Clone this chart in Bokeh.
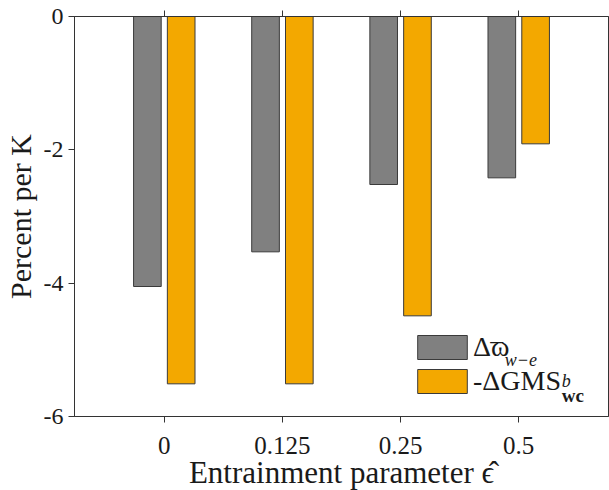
import numpy as np
from bokeh.plotting import figure
from bokeh.models import (Range1d, FixedTicker, LinearAxis, Legend, LegendItem,
                          ColumnDataSource, Label)
from bokeh.transform import dodge
from bokeh.embed import file_html
from bokeh.resources import INLINE

# ---- data ----
categories = ["0", "0.125", "0.25", "0.5"]
omega_vals = [-4.05, -3.53, -2.52, -2.42]
gms_vals = [-5.51, -5.51, -4.49, -1.91]
y_ticks = [0, -2, -4, -6]
y_tick_labels = ["0", "-2", "-4", "-6"]

xpos = list(range(1, len(categories) + 1))
src = ColumnDataSource(dict(x=xpos, omega=omega_vals, gms=gms_vals))

FONT = "Liberation Serif"
AX = "#333333"
TXT = "#1a1a1a"

p = figure(frame_width=534, frame_height=400,
           min_border_left=74, min_border_right=1, min_border_top=16, min_border_bottom=74,
           x_range=Range1d(0.24, 4.76), y_range=Range1d(-6, 0),
           output_backend="svg", toolbar_location=None, tools="",
           background_fill_color="white", border_fill_color="white")

p.xgrid.visible = False
p.ygrid.visible = False
p.outline_line_color = AX
p.outline_line_width = 1

bw = 0.234
off = 0.143
r1 = p.vbar(x=dodge("x", -off), top="omega", bottom=0, width=bw, source=src,
            fill_color="#808080", line_color="#3a3a3a", line_width=1)
r2 = p.vbar(x=dodge("x", off), top="gms", bottom=0, width=bw, source=src,
            fill_color="#F3A800", line_color="#3a3a3a", line_width=1)

# axes
xa = p.xaxis[0]
xa.ticker = FixedTicker(ticks=xpos)
xa.major_label_overrides = {x: c for x, c in zip(xpos, categories)}
xa.axis_label = "Entrainment parameter \u03f5\u0302"
ya = p.yaxis[0]
ya.ticker = FixedTicker(ticks=y_ticks)
ya.major_label_overrides = {t: l for t, l in zip(y_ticks, y_tick_labels)}
ya.axis_label = "Percent per K"

for a in (xa, ya):
    a.axis_line_color = AX
    a.major_tick_line_color = AX
    a.major_tick_in = 0
    a.major_tick_out = 6
    a.minor_tick_line_color = None
    a.major_label_text_font = FONT
    a.major_label_text_color = TXT
    a.axis_label_text_font = FONT
    a.axis_label_text_font_style = "normal"
    a.axis_label_text_color = TXT
xa.major_label_text_font_size = "25px"
ya.major_label_text_font_size = "24px"
xa.axis_label_text_font_size = "31px"
ya.axis_label_text_font_size = "30px"
xa.major_label_standoff = 14
xa.axis_label_standoff = -2
ya.major_label_standoff = 5
ya.axis_label_standoff = 4

top = LinearAxis(ticker=FixedTicker(ticks=xpos), axis_line_color=AX,
                 major_tick_line_color=AX, major_tick_in=0, major_tick_out=6,
                 minor_tick_line_color=None,
                 major_label_overrides={x: "" for x in xpos},
                 major_label_standoff=0)
p.add_layout(top, "above")

legend = Legend(items=[LegendItem(label="\u0394\u03c9", renderers=[r1]),
                       LegendItem(label="-\u0394GMS", renderers=[r2])],
                location=(337, 19), glyph_width=62, glyph_height=30,
                label_height=30, spacing=2, padding=0, margin=0,
                label_standoff=-3, border_line_alpha=0, background_fill_alpha=0,
                label_text_font=FONT, label_text_font_size="28px",
                label_text_color=TXT)
p.add_layout(legend)

def px2x(px):
    return 1 + (px - 164) / 118.33

def py2y(py):
    return -(py - 16) / 66.667

sub_style = dict(text_font=FONT, text_color=TXT,
                 text_baseline="alphabetic", text_align="left")
# overline on omega
p.add_layout(Label(x=px2x(497), y=py2y(340), text="\u2013", text_align="center",
                   text_font=FONT, text_font_size="26px", text_color=TXT,
                   text_baseline="alphabetic"))
p.add_layout(Label(x=px2x(505), y=py2y(360), text="w\u2212e", text_font_style="italic",
                   text_font_size="18px", **sub_style))
p.add_layout(Label(x=px2x(562), y=py2y(381), text="b", text_font_style="italic",
                   text_font_size="18px", **sub_style))
p.add_layout(Label(x=px2x(562), y=py2y(395), text="wc", text_font_style="bold",
                   text_font_size="19px", **sub_style))

open("out.html", "w").write(file_html(p, INLINE))
